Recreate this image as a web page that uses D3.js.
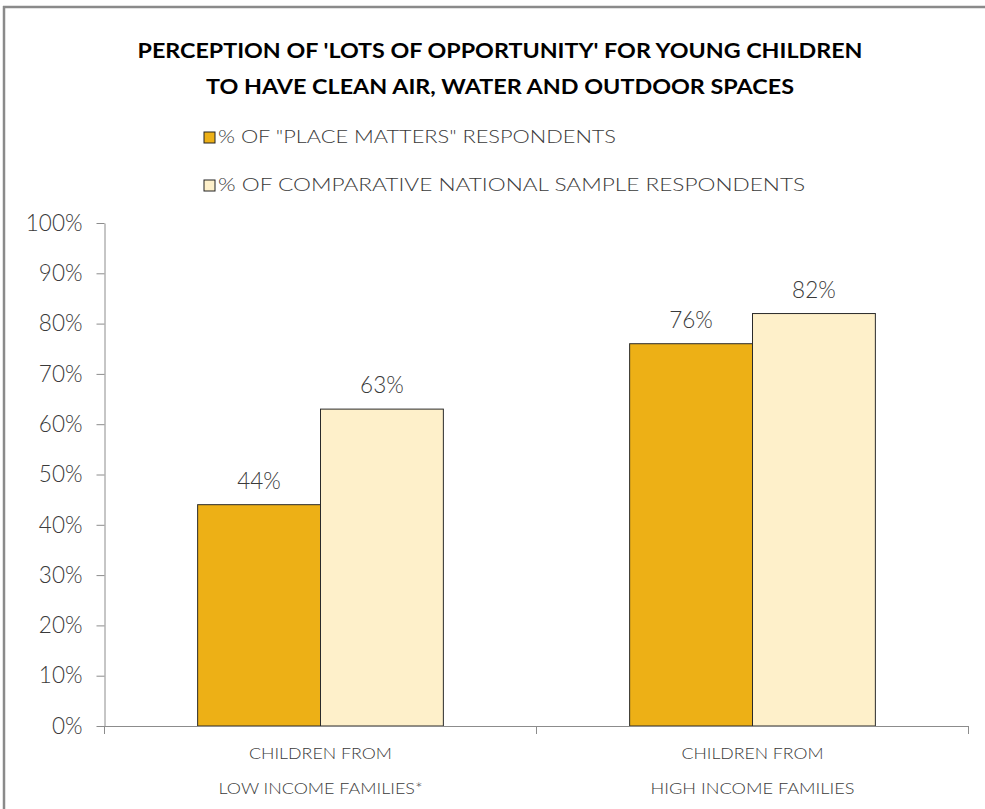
<!DOCTYPE html>
<html>
<head>
<meta charset="utf-8">
<script src="https://cdn.jsdelivr.net/npm/d3@7/dist/d3.min.js"></script>
<style>
  html, body { margin: 0; padding: 0; background: #fff; }
  svg { display: block; }
</style>
</head>
<body>
<svg id="chart" width="985" height="809"></svg>
<script>
// Chart data
const titleLines = [
  "PERCEPTION OF 'LOTS OF OPPORTUNITY' FOR YOUNG CHILDREN",
  "TO HAVE CLEAN AIR, WATER AND OUTDOOR SPACES"
];
const categories = ["low", "high"];
const categoryLabels = [
  ["CHILDREN FROM", "LOW INCOME FAMILIES*"],
  ["CHILDREN FROM", "HIGH INCOME FAMILIES"]
];
const seriesNames = [
  "% OF \"PLACE MATTERS\" RESPONDENTS",
  "% OF COMPARATIVE NATIONAL SAMPLE RESPONDENTS"
];
const placeMatters = [0.44, 0.76];
const nationalSample = [0.63, 0.82];
const yTicks = [0, 0.1, 0.2, 0.3, 0.4, 0.5, 0.6, 0.7, 0.8, 0.9, 1.0];

const colors = ["#EDB016", "#FEF0CA"];
const textColor = "#3a3a3a";
const axisColor = "#8c8c8c";
const fontFamily = "Lato, 'Open Sans', sans-serif";

const svg = d3.select("#chart");

// Frame lines (top and left)
svg.append("line").attr("x1", 3).attr("x2", 985).attr("y1", 7).attr("y2", 7)
  .attr("stroke", "#8a8a8a").attr("stroke-width", 2.5);
svg.append("line").attr("x1", 4).attr("x2", 4).attr("y1", 6).attr("y2", 809)
  .attr("stroke", "#8a8a8a").attr("stroke-width", 2.5);

// Title
const titleWidths = [725, 588];
svg.append("g").selectAll("text").data(titleLines).join("text")
  .attr("x", 500).attr("y", (d, i) => 58 + i * 36)
  .attr("text-anchor", "middle")
  .attr("font-family", fontFamily).attr("font-weight", 700).attr("font-size", 20.5)
  .attr("fill", "#000")
  .attr("textLength", (d, i) => titleWidths[i]).attr("lengthAdjust", "spacingAndGlyphs")
  .text(d => d);

// Legend
const legendWidths = [398, 587];
const legend = svg.append("g").selectAll("g").data(seriesNames).join("g")
  .attr("transform", (d, i) => `translate(204, ${132 + i * 48})`);
legend.append("rect").attr("x", 0).attr("y", 0).attr("width", 11).attr("height", 11)
  .attr("fill", (d, i) => colors[i]).attr("stroke", "#222").attr("stroke-width", 1);
legend.append("text").attr("x", 14).attr("y", 11)
  .attr("font-family", fontFamily).attr("font-weight", 300).attr("font-size", 17.5)
  .attr("fill", textColor)
  .attr("textLength", (d, i) => legendWidths[i]).attr("lengthAdjust", "spacingAndGlyphs")
  .text(d => d);

// Scales
const x0 = d3.scaleBand().domain(categories).range([104.5, 968.5]).padding(0);
const x1 = d3.scaleBand().domain([0, 1]).range([0, x0.bandwidth()])
  .paddingInner(0).paddingOuter(0.758);
const y = d3.scaleLinear().domain([0, 1]).range([726, 223]);

// Y axis
const yAxis = svg.append("g").attr("transform", "translate(104.5,0)")
  .call(d3.axisLeft(y).tickValues(yTicks).tickFormat(d3.format(".0%"))
    .tickSize(8).tickPadding(14).tickSizeOuter(0));
yAxis.select(".domain").attr("stroke", axisColor);
yAxis.selectAll(".tick line").attr("stroke", axisColor);
yAxis.selectAll(".tick text")
  .attr("font-family", fontFamily).attr("font-weight", 300).attr("font-size", 22.5)
  .attr("fill", textColor);

// Bars
const seriesValues = [placeMatters, nationalSample];
const groups = svg.append("g").selectAll("g").data(categories).join("g")
  .attr("transform", d => `translate(${x0(d)},0)`);
groups.selectAll("rect")
  .data((c, ci) => seriesValues.map((vals, si) => ({ si, v: vals[ci] })))
  .join("rect")
  .attr("x", d => x1(d.si)).attr("width", x1.bandwidth())
  .attr("y", d => y(d.v)).attr("height", d => y(0) - y(d.v))
  .attr("fill", d => colors[d.si]).attr("stroke", "#2a2a2a").attr("stroke-width", 1);
groups.selectAll("text.value")
  .data((c, ci) => seriesValues.map((vals, si) => ({ si, v: vals[ci] })))
  .join("text").attr("class", "value")
  .attr("x", d => x1(d.si) + x1.bandwidth() / 2)
  .attr("y", d => y(d.v) - 16)
  .attr("text-anchor", "middle")
  .attr("font-family", fontFamily).attr("font-weight", 300).attr("font-size", 22.5)
  .attr("fill", textColor)
  .text(d => d3.format(".0%")(d.v));

// X axis: baseline with boundary ticks
const xAxis = svg.append("g");
xAxis.append("line").attr("x1", x0.range()[0]).attr("x2", x0.range()[1])
  .attr("y1", y(0) + 0.5).attr("y2", y(0) + 0.5).attr("stroke", axisColor);
const boundaries = categories.map(c => x0(c)).concat([x0.range()[1]]);
xAxis.selectAll("line.tick").data(boundaries).join("line").attr("class", "tick")
  .attr("x1", d => d).attr("x2", d => d)
  .attr("y1", y(0)).attr("y2", y(0) + 8).attr("stroke", axisColor);

// Category labels
const catWidths = [[143, 204], [142, 204]];
categories.forEach((c, ci) => {
  svg.append("g").selectAll("text").data(categoryLabels[ci]).join("text")
    .attr("x", x0(c) + x0.bandwidth() / 2)
    .attr("y", (d, i) => 759 + i * 35)
    .attr("text-anchor", "middle")
    .attr("font-family", fontFamily).attr("font-weight", 300).attr("font-size", 15.5)
    .attr("fill", textColor)
    .attr("textLength", (d, i) => catWidths[ci][i]).attr("lengthAdjust", "spacingAndGlyphs")
    .text(d => d);
});
</script>
</body>
</html>
